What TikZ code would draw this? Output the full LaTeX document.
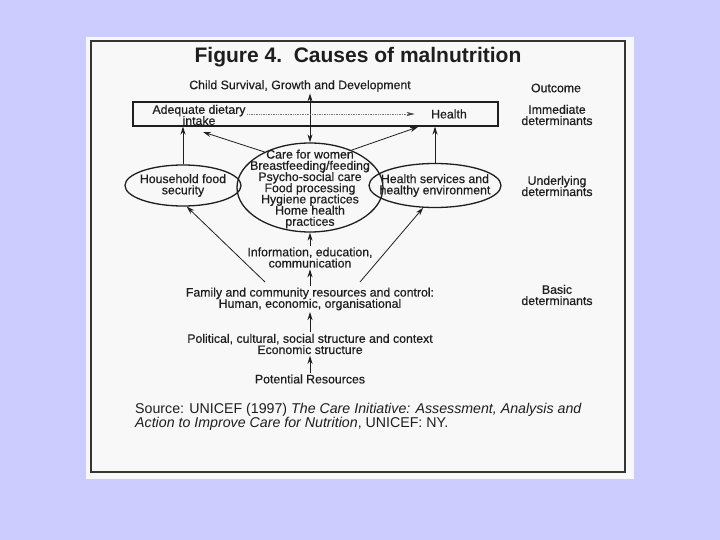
\documentclass[tikz,border=0pt]{standalone}
\usepackage{fontspec}
\setmainfont{Liberation Sans}
\newfontfamily\labfont{Liberation Sans}[FakeBold=0.5]
\usetikzlibrary{arrows.meta,shapes.geometric}
\definecolor{bgc}{RGB}{204,204,255}
\definecolor{paper}{RGB}{248,248,248}
\definecolor{ink}{RGB}{30,30,30}
\newcommand\tightls{\lineskiplimit=-20pt\relax\lineskip=0pt\relax}
\begin{document}
\begin{tikzpicture}[x=1pt,y=-1pt,
  lab/.style={text=ink, align=center, font=\labfont\fontsize{12.3}{11.2}\selectfont\tightls, inner sep=1.5pt},
  carelab/.style={text=ink, align=center, font=\labfont\fontsize{12.3}{11.2}\selectfont\tightls, inner sep=0pt},
  oval/.style={draw=ink, line width=1.3pt, ellipse, inner sep=0pt},
  arr/.style={draw=ink, line width=1pt, -{Stealth[length=8pt,width=5pt]}},
  dblarr/.style={draw=ink, line width=1pt, {Stealth[length=8pt,width=5pt]}-{Stealth[length=8pt,width=5pt]}},
  dotarr/.style={draw=ink!60, line width=0.7pt, densely dotted, -{Stealth[length=8pt,width=4pt,color=ink!85,fill=ink!85,line width=0.5pt]}},
  thinarr/.style={draw=ink, line width=0.8pt, -{Stealth[length=8pt,width=5pt]}}]
\useasboundingbox (0,0) rectangle (720,540);
\fill[bgc] (0,0) rectangle (720,540);
\fill[paper] (86,37) rectangle (634,479);
\draw[ink!90, line width=2.3pt] (91,41) rectangle (625,472);

% title
\node[text=ink, font=\fontsize{21}{24}\selectfont\bfseries, inner sep=0pt] (title) at (358,57) {Figure 4.\ \ Causes of malnutrition};

% outcome row
\node[lab] (child) at (300,86) {Child Survival, Growth and Development};
\node[lab] (outcome) at (556,88) {Outcome};

% immediate row
\node[draw=ink, line width=1.1pt, minimum width=365pt, minimum height=24pt, inner sep=0pt] (box) at (315.5,114) {};
\node[lab] (adeq) at (199,115) {Adequate dietary\\intake};
\node[lab] (health) at (449,114) {Health};
\node[lab] (imm) at (557,115) {Immediate\\determinants};

% underlying row
\node[oval, minimum width=146pt, minimum height=89pt] (care) at (310,187.5) {};
\node[oval, minimum width=116pt, minimum height=41pt] (hfs) at (183,185.5) {};
\node[oval, minimum width=132pt, minimum height=44pt] (hse) at (435,185.5) {};
\node[carelab] (caretxt) at (310,189) {Care for women\\Breastfeeding/feeding\\Psycho-social care\\Food processing\\Hygiene practices\\Home health\\practices};
\node[lab] (hfstxt) at (183,185.5) {Household food\\security};
\node[lab] (hsetxt) at (435,185.5) {Health services and\\healthy environment};
\node[lab] (und) at (557,186) {Underlying\\determinants};

% basic row
\node[lab] (info) at (310,257.5) {Information, education,\\communication};
\node[lab] (family) at (310,299) {Family and community resources and control:\\Human, economic, organisational};
\node[lab] (basic) at (557,295) {Basic\\determinants};
\node[lab] (pol) at (310,344) {Political, cultural, social structure and context\\Economic structure};
\node[lab] (pot) at (310,379) {Potential Resources};

% source
\node[text=ink, anchor=west, align=left, font=\fontsize{14.2}{14}\selectfont\tightls, inner sep=0pt] (src) at (135,417)
  {Source: UNICEF (1997) \textit{The Care Initiative: Assessment, Analysis and}\\
   \textit{Action to Improve Care for Nutrition}, UNICEF: NY.};

% connectors
\coordinate (aL) at (203,132);
\coordinate (aR) at (418,127);
\coordinate (dL) at (265,282);
\coordinate (dR) at (360,282);

\draw[dblarr] (care.north |- child.south) -- (care.north);
\draw[dotarr] (adeq.east |- health.west) -- ([xshift=-15pt]health.west);
\draw[arr] (hfs.north) -- (hfs.north |- box.south);
\draw[arr] (hse.north) -- (hse.north |- box.south);
\draw[thinarr] (care.142) -- (aL);
\draw[thinarr] (care.42) -- (aR);
\draw[thinarr] (dL) -- (hfs.-80);
\draw[thinarr] (dR) -- (hse.-118);
\draw[arr] (info.north) -- (care.south);
\draw[arr] (family.north) -- (info.south);
\draw[arr] (pol.north) -- (family.south);
\draw[arr] (pot.north) -- (pol.south);
\end{tikzpicture}
\end{document}
